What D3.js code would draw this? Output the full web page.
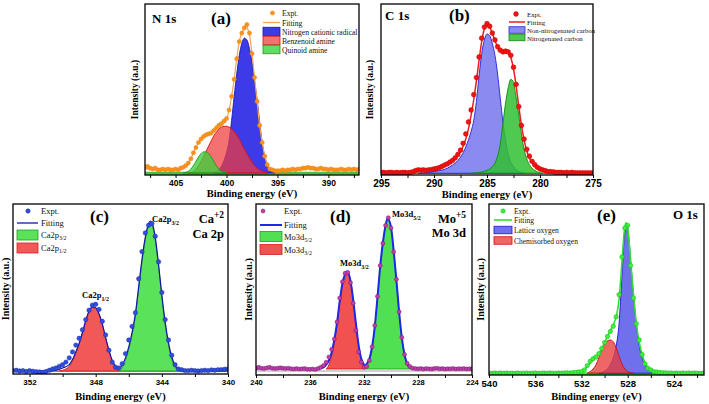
<!DOCTYPE html>
<html><head><meta charset="utf-8">
<script src="https://cdn.jsdelivr.net/npm/d3@7"></script>
<style>html,body{margin:0;padding:0;background:#fff;} svg{display:block}</style>
</head><body>
<svg id="chart" width="709" height="404"></svg>
<script>
// ================= DATA =================
// (a) N 1s  — experimental points on a regular energy grid (eV), intensity in % of frame height
const aExptStart = 408, aExptStep = 0.25;
const aExpt = [4.5,5,4,3.5,4,3,3,3.5,3,3.5,3,3,3.5,3,4,4.5,
  5.5,7,9.5,13,16,19,21,22.5,23.5,24,24.5,26,27.5,29,30,31.5,33,38,46,56,68,78,83,86,88,83,71,57,43,29,19,11,6,3.5,3,
  2.5,2.5,2.5,3,2.5,3,3,3.5,3,3.5,3.5,4,4,4.5,4,4,3.5,3.5,4,3.5,3.5,3,3.5,3,3,3,3.5,3,3,3.5,3,3.5,3,3.5];
const aFit = [[408,3.6],[407,3.5],[406,3.2],[405,3.3],[404.5,3.8],[404,5.2],[403.75,7],[403.5,9.5],[403.25,13],[403,16],[402.75,19],[402.5,21],[402.25,22.5],[402,23.5],[401.5,24.5],[401,27.5],[400.5,30],[400.25,31.5],[400,33],[399.75,38],[399.5,46],[399.25,56],[399,68],[398.75,78],[398.5,83],[398.25,86],[398.1,88],[397.9,85],[397.75,82],[397.5,71],[397.25,57],[397,43],[396.75,29],[396.5,19],[396.25,11],[396,6],[395.75,3.5],[395.5,2.8],[395,2.6],[394.5,2.8],[394,3],[393,3.3],[392,3.8],[391,3.6],[390,3.3],[389,3.2],[388,3.3],[387,3.3]];
const aCationic = [[401.25,1.2],[401,2],[400.75,3],[400.5,5],[400.25,8.5],[400,13],[399.75,20],[399.5,32],[399.25,46],[399,59],[398.75,70],[398.5,77],[398.25,80],[398,79],[397.75,74],[397.5,66],[397.25,55],[397,44],[396.75,31],[396.5,19],[396.25,11],[396,6.5],[395.75,3.5],[395.5,2],[395.25,1.2]];
const aBenzenoid = [[403.75,1.2],[403.5,1.5],[403.25,2.2],[403,3.5],[402.75,5.5],[402.5,8],[402.25,11],[402,14],[401.75,17],[401.5,20],[401.25,23],[401,25],[400.75,27],[400.5,28],[400.25,28.5],[400,28.5],[399.75,28],[399.5,27],[399.25,25.5],[399,23.5],[398.75,21],[398.5,18],[398.25,15],[398,12.5],[397.75,10],[397.5,7.5],[397.25,5.5],[397,4],[396.75,3],[396.5,2.2],[396.25,1.6],[396,1.2]];
const aQuinoid = [[404.25,1.2],[404,1.5],[403.75,2.2],[403.5,3.5],[403.25,5.5],[403,8],[402.75,10.5],[402.5,12.5],[402.25,13.5],[402,13.5],[401.75,12.5],[401.5,10.5],[401.25,8],[401,5.5],[400.75,3.5],[400.5,2.2],[400.25,1.5],[400,1.2]];
const aTicks = [407.5,405,402.5,400,397.5,395,392.5,390,387.5];
const aTickLabels = [405,400,395,390];
const aLegend = ["Expt.","Fitting","Nitrogen cationic radical","Benzenoid amine","Quinoid amine"];

// (b) C 1s
const bExptStart = 295, bExptStep = 0.25;
const bExpt = [1.5,1.5,1.2,1.5,1.5,1.2,1.5,1.3,1.5,1.5,1.3,1.5,1.8,2.5,3,2.8,3,2.7,3,3.2,3.5,3.8,4.3,5,5.8,6.5,7.5,8.5,10,12,14.5,18.5,24,31,38,47,57,69,80,86.5,88.5,87,83,79,75,73,72,72.5,72,70,63,53,40,29,21,15,11,8,6,4.5,3.5,3,2.5,2,2,1.8,1.5,1.5,1.5,1.3,1.5,1.3,1.5,1.3,1.2,1.3,1.2,1.2,1.2,1.2,1.2];
const bFit = [[295,1.5],[293,1.5],[292,1.8],[291.5,2.2],[291,2.6],[290.5,3],[290,3.5],[289.5,4.3],[289,5.5],[288.5,7],[288,9.5],[287.5,13.5],[287.25,17],[287,21],[286.75,27],[286.5,35],[286.25,44],[286,55],[285.75,67],[285.5,78],[285.25,85.5],[285,88],[284.75,86.5],[284.5,83],[284.25,78.5],[284,75],[283.75,72.5],[283.5,71.5],[283.25,71.5],[283,71],[282.75,68.5],[282.5,62],[282.25,52],[282,40],[281.75,29],[281.5,20.5],[281.25,14],[281,10],[280.5,5.5],[280,3.5],[279.5,2.5],[279,2],[278,1.6],[277,1.5],[275,1.4]];
const bNonNitrogenated = [[291.5,1],[291,1.2],[290.5,1.5],[290,2],[289.5,2.6],[289,3.3],[288.5,4.8],[288,7],[287.75,8.5],[287.5,10.5],[287.25,13],[287,16.5],[286.75,20.5],[286.5,25.5],[286.25,32],[286,43],[285.75,58],[285.5,71],[285.25,79],[285,82.5],[284.75,81.5],[284.5,77],[284.25,70],[284,59],[283.75,45],[283.5,31],[283.25,20],[283,12],[282.75,7.5],[282.5,5],[282.25,3],[282,2],[281.75,1.5],[281.5,1]];
const bNitrogenated = [[286.5,1],[286,1.2],[285.5,1.7],[285,2.8],[284.75,3.5],[284.5,4.8],[284.25,7],[284,11],[283.75,18],[283.5,30],[283.25,42],[283,51],[282.75,56],[282.5,54],[282.25,45],[282,35],[281.75,24],[281.5,15],[281.25,9.5],[281,6],[280.75,4],[280.5,2.8],[280.25,1.8],[280,1.2],[279.75,1]];
const bTicks = [295,292.5,290,287.5,285,282.5,280,277.5,275];
const bTickLabels = [295,290,285,280,275];
const bLegend = ["Expt.","Fitting","Non-nitrogenated carbon","Nitrogenated carbon"];

// (c) Ca 2p
const cExptStart = 353, cExptStep = 0.2;
const cExpt = [2,2.2,1.8,2,1.5,2,1.6,1.3,1.2,1,1.5,2.2,3,3.5,4.5,5.5,7,9.5,13,17,21,26,32,37.5,40.5,41,38,31,23,14,7,4,3.5,6,12,20,28,36,56,72,83,87.5,88.5,81,66,48,32,20,11,5.5,3,2.5,2,2,2.2,2,1.8,2,2.2,2,2.4,2.2,2.5,2.6,2.8,3];
const cFit = [[353,1.8],[352,1.7],[351,1.6],[350.4,2.2],[350,3.5],[349.6,5.5],[349.4,8.5],[349.2,13],[349,18],[348.8,24.5],[348.6,31.5],[348.4,37],[348.2,39.5],[348,39],[347.8,35.5],[347.6,29.5],[347.4,21.5],[347.2,14],[347,8],[346.8,4.5],[346.6,3],[346.4,5],[346.2,9.5],[346,16],[345.8,24.5],[345.6,35.5],[345.4,51.5],[345.2,67.5],[345,80.5],[344.8,88.5],[344.7,90],[344.6,89],[344.4,80.5],[344.2,64.5],[344,46.5],[343.8,30.5],[343.6,18.5],[343.4,10],[343.2,5],[343,2.5],[342.5,1.8],[341.5,1.8],[340,2]];
const cCa2p32 = [[346.6,1.8],[346.4,3.5],[346.2,8],[346,14.5],[345.8,23],[345.6,34],[345.4,50],[345.2,66],[345,79],[344.8,87],[344.7,88.5],[344.6,87.5],[344.4,79],[344.2,63],[344,45],[343.8,29],[343.6,17],[343.4,8.5],[343.2,3.8],[343,2],[342.9,1.8]];
const cCa2p12 = [[350.2,1.8],[350,2.2],[349.8,3],[349.6,4.5],[349.4,7.5],[349.2,12],[349,17.5],[348.8,24],[348.6,31],[348.4,36.5],[348.2,39],[348,38.5],[347.8,35],[347.6,29],[347.4,21],[347.2,13.5],[347,7.5],[346.8,3.5],[346.6,1.8]];
const cTicks = [352,350,348,346,344,342,340];
const cTickLabels = [352,348,344,340];

// (d) Mo 3d
const dExptStart = 240, dExptStep = 0.2;
const dExpt = [4,4.5,4,3.8,4.2,4.5,4,3.8,4,4.2,4,3.8,4,3.7,3.5,3.8,3.5,3.6,3.8,3.4,3.3,3.5,3.2,3.8,4.5,5.5,7.5,10.5,15,21,31,45,54.5,59.5,60,54,42,26,13.5,7.5,4.5,5,8.5,16.5,29,46,64,77,87.5,92,86,72,56,37,22,12,6.8,5,4,3.8,3.6,3.8,3.5,3.8,3.6,3.5,3.8,4,3.6,3.8,3.5,3.7,3.6,3.8,3.5,3.7,3.6,3.8,3.5,3.7,3.6];
const dFit = [[240,3.8],[239,3.9],[238,3.8],[237,3.6],[236,3.4],[235.4,3.6],[235,4.5],[234.8,6],[234.6,8.5],[234.4,13],[234.2,20.5],[234,30.5],[233.8,43],[233.6,53.5],[233.4,59],[233.25,60.5],[233,55],[232.8,44],[232.6,30],[232.4,17.5],[232.2,9.5],[232,6],[231.9,5.5],[231.8,6.5],[231.6,9.5],[231.4,16.5],[231.2,28.5],[231,45.5],[230.8,63.5],[230.6,77.5],[230.4,87.5],[230.25,91.5],[230,86.5],[229.8,72.5],[229.6,55.5],[229.4,37],[229.2,22],[229,12],[228.8,6.5],[228.6,4.5],[228.3,3.8],[227,3.7],[226,3.7],[225,3.7],[224,3.7]];
const dMo3d52 = [[231.9,3.5],[231.8,4.5],[231.6,8],[231.4,15.5],[231.2,28],[231,45],[230.8,63],[230.6,77],[230.4,87],[230.25,91],[230,86],[229.8,72],[229.6,55],[229.4,36.5],[229.2,21.5],[229,11.5],[228.8,6],[228.6,4],[228.5,3.5]];
const dMo3d32 = [[234.8,3.5],[234.6,6],[234.4,11],[234.2,19],[234,29.5],[233.8,42],[233.6,52.5],[233.4,58.5],[233.25,60],[233,55],[232.8,44],[232.6,30],[232.4,17],[232.2,8.5],[232,4.5],[231.9,3.5]];
const dTicks = [240,238,236,234,232,230,228,226,224];
const dTickLabels = [240,236,232,228,224];

// (e) O 1s
const eExptStart = 540, eExptStep = 0.25;
const eExpt = [1.2,1,1.2,1,1.2,1,1.2,1,1.1,1,1.2,1,1.1,1.2,1,1.1,1.2,1,1.1,1.2,1,1.2,1.1,1,1.2,1.1,1.2,1.3,1.2,1.4,1.5,1.8,2,3,5.5,8,9.5,10.5,12.5,15.5,19,22.5,25.5,28.5,34,47,69,86,87.5,64,45,30,20.5,12,6.5,4,3,2,1.8,1.5,1.4,1.3,1.2,1.2,1.1,1.2,1,1.2,1.1,1.2,1,1.2,1.1,1,1.1];
const eFit = [[540,1.1],[535,1.1],[533,1.2],[532.5,1.5],[532,2.2],[531.75,3.2],[531.5,5],[531.25,7],[531,9],[530.75,10.5],[530.5,12.5],[530.25,15.5],[530,19],[529.75,22.5],[529.5,26],[529.25,29.5],[529,34],[528.75,44],[528.5,66],[528.3,84],[528.15,89],[528,86],[527.75,67],[527.5,47],[527.25,30],[527,19],[526.75,12],[526.5,7],[526.25,4.5],[526,3],[525.5,1.8],[525,1.3],[524,1.1],[521.4,1.1]];
const eLattice = [[530.5,1],[530,2.2],[529.75,3.5],[529.5,6],[529.25,10],[529,17],[528.75,30],[528.5,58],[528.3,80],[528.1,88],[527.9,80],[527.75,67],[527.5,47],[527.25,29],[527,17],[526.75,10],[526.5,6],[526.25,4],[526,2.8],[525.75,2],[525.5,1.5],[525,1]];
const eChemisorbed = [[531.5,1],[531.25,2],[531,3.5],[530.75,6],[530.5,10],[530.25,14.5],[530,18],[529.75,20],[529.5,20.5],[529.25,19.5],[529,16],[528.75,11],[528.5,6.5],[528.25,3.5],[528,2],[527.75,1.3],[527.5,1]];
const eTicks = [540,538,536,534,532,530,528,526,524,522];
const eTickLabels = [540,536,532,528,524];
const eLegend = ["Expt.","Fitting","Lattice oxygen","Chemisorbed oxygen"];

// ================= DRAWING =================
const svg = d3.select("#chart");
const serif = "'Liberation Serif','Times New Roman',serif";
const sans = "'Liberation Sans',Arial,sans-serif";
const defs = svg.append("defs");

function rich(t, parts) {
  parts.forEach(p => {
    if (typeof p === "string") t.append("tspan").text(p);
    else if (p.sub) t.append("tspan").attr("baseline-shift","sub").attr("font-size","70%").text(p.sub);
    else if (p.sup) t.append("tspan").attr("baseline-shift","super").attr("font-size","75%").text(p.sup);
  });
  return t;
}
function grid(start, step, vals) { return vals.map((v,i) => [+(start - i*step).toFixed(3), v]); }

function panel(o) {
  const g = svg.append("g");
  const x = d3.scaleLinear().domain(o.domain).range([o.x0, o.x1]);
  const y = d3.scaleLinear().domain([0,100]).range([o.y1, o.y0]);
  defs.append("clipPath").attr("id","clip"+o.id).append("rect")
    .attr("x",o.x0).attr("y",o.y0).attr("width",o.x1-o.x0).attr("height",o.y1-o.y0);
  const plot = g.append("g").attr("clip-path",`url(#clip${o.id})`);
  plot.append("line").attr("x1",o.x0).attr("x2",o.x1)
    .attr("y1",y(o.baseLine)).attr("y2",y(o.baseLine))
    .attr("stroke",o.baseColor).attr("stroke-width",o.baseWidth);
  o.components.forEach(c => {
    const area = d3.area().x(d=>x(d[0])).y0(y(o.base)).y1(d=>y(d[1])).curve(d3.curveMonotoneX);
    plot.append("path").datum(c.data).attr("d",area)
      .attr("fill",c.fill).attr("fill-opacity",c.opacity)
      .attr("stroke",c.stroke).attr("stroke-width",0.9);
  });
  const line = d3.line().x(d=>x(d[0])).y(d=>y(d[1])).curve(d3.curveMonotoneX);
  plot.append("path").datum(o.fit).attr("d",line).attr("fill","none")
    .attr("stroke",o.fitColor).attr("stroke-width",o.fitWidth);
  plot.selectAll("circle.pt").data(o.expt).enter().append("circle")
    .attr("cx",d=>x(d[0])).attr("cy",d=>y(d[1])).attr("r",o.dotR)
    .attr("fill",o.dotColor).attr("stroke",o.dotStroke).attr("stroke-width",0.5);
  g.append("rect").attr("x",o.x0).attr("y",o.y0).attr("width",o.x1-o.x0).attr("height",o.y1-o.y0)
    .attr("fill","none").attr("stroke","#000").attr("stroke-width",1.3);
  const axis = d3.axisBottom(x).tickValues(o.ticks).tickSize(3).tickSizeOuter(0).tickPadding(2)
    .tickFormat(d => o.labels.includes(d) ? d : "");
  const ag = g.append("g").attr("transform",`translate(0,${o.y1})`).call(axis);
  ag.select(".domain").remove();
  ag.selectAll("line").attr("stroke","#000").attr("stroke-width",1);
  ag.selectAll("text").attr("font-family",sans).attr("font-weight","bold")
    .attr("font-size",o.tickFont).attr("fill","#000");
  g.append("text").attr("x",(o.x0+o.x1)/2).attr("y",o.xTitleY).attr("text-anchor","middle")
    .attr("font-family",serif).attr("font-weight","bold").attr("font-size",10.5).text("Binding energy (eV)");
  g.append("text").attr("transform",`translate(${o.yTitleX},${(o.y0+o.y1)/2}) rotate(-90)`)
    .attr("text-anchor","middle").attr("dominant-baseline","central")
    .attr("font-family",serif).attr("font-weight","bold").attr("font-size",o.yTitleFont).text("Intensity (a.u.)");
  const L = o.legend;
  o.legendItems.forEach((it,i) => {
    const cy = L.rows[i];
    if (it.type === "dot") g.append("circle").attr("cx",L.dotX).attr("cy",cy).attr("r",o.dotR)
      .attr("fill",o.dotColor).attr("stroke",o.dotStroke).attr("stroke-width",0.5);
    else if (it.type === "line") g.append("line").attr("x1",L.bx0).attr("x2",L.bx1).attr("y1",cy).attr("y2",cy)
      .attr("stroke",o.fitColor).attr("stroke-width",Math.max(1.3,o.fitWidth));
    else g.append("rect").attr("x",L.bx0).attr("y",cy-L.bh/2).attr("width",L.bx1-L.bx0).attr("height",L.bh)
      .attr("fill",it.fill).attr("fill-opacity",it.opacity).attr("stroke",it.stroke).attr("stroke-width",0.8);
    rich(g.append("text").attr("x",L.tx).attr("y",cy).attr("dominant-baseline","central")
      .attr("font-family",serif).attr("font-size",L.font).attr("fill","#111"), it.label);
  });
  o.texts.forEach(t => {
    rich(g.append("text").attr("x",t.x).attr("y",t.y).attr("text-anchor",t.anchor||"start")
      .attr("font-family",serif).attr("font-weight","bold").attr("font-size",t.size).attr("fill","#000"), t.parts);
  });
}

const aBlue = {fill:"#3030e6",opacity:0.95,stroke:"#1818b8"};
const aRed  = {fill:"#f03a3a",opacity:0.72,stroke:"#e01010"};
const aGreen= {fill:"#3cce3c",opacity:0.78,stroke:"#1a9a1a"};
panel({id:"a", x0:145,x1:359,y0:4,y1:175, domain:[408,387],
  expt:grid(aExptStart,aExptStep,aExpt), fit:aFit, base:1.2, baseLine:1, baseColor:"#44c044", baseWidth:3,
  components:[{data:aCationic,...aBlue},{data:aBenzenoid,...aRed},{data:aQuinoid,...aGreen}],
  fitColor:"#f4a456", fitWidth:1.2, dotR:2.1, dotColor:"#f7931e", dotStroke:"#f08010",
  ticks:aTicks, labels:aTickLabels, tickFont:8.5, xTitleY:197, yTitleX:135, yTitleFont:9.5,
  legend:{dotX:272.5, bx0:263, bx1:280, bh:8.5, tx:282, font:7.6, rows:[13,22.5,31.5,40.5,49.5]},
  legendItems:[{type:"dot",label:[aLegend[0]]},{type:"line",label:[aLegend[1]]},
    {type:"box",...aBlue,label:[aLegend[2]]},{type:"box",...aRed,label:[aLegend[3]]},{type:"box",...aGreen,label:[aLegend[4]]}],
  texts:[{x:152,y:23,size:13,parts:["N 1s"]},{x:211,y:24,size:17,parts:["(a)"]}]
});

const bBlue = {fill:"#8080f0",opacity:0.92,stroke:"#2424d0"};
const bGreen= {fill:"#30c030",opacity:0.85,stroke:"#108a10"};
panel({id:"b", x0:381,x1:593,y0:4,y1:175, domain:[295,275],
  expt:grid(bExptStart,bExptStep,bExpt), fit:bFit, base:1, baseLine:1, baseColor:"#30b030", baseWidth:1.2,
  components:[{data:bNonNitrogenated,...bBlue},{data:bNitrogenated,...bGreen}],
  fitColor:"#ee1c1c", fitWidth:1.5, dotR:2.4, dotColor:"#f01414", dotStroke:"#c00000",
  ticks:bTicks, labels:bTickLabels, tickFont:10, xTitleY:198, yTitleX:370, yTitleFont:9.5,
  legend:{dotX:516, bx0:509, bx1:525, bh:6.5, tx:527, font:6.8, rows:[14,22,30,37.5]},
  legendItems:[{type:"dot",label:[bLegend[0]]},{type:"line",label:[bLegend[1]]},
    {type:"box",...bBlue,label:[bLegend[2]]},{type:"box",...bGreen,label:[bLegend[3]]}],
  texts:[{x:385,y:20,size:13,parts:["C 1s"]},{x:449,y:21,size:17,parts:["(b)"]}]
});

const cGreen = {fill:"#52e052",opacity:0.95,stroke:"#20a020"};
const cRed   = {fill:"#f05050",opacity:0.95,stroke:"#e02020"};
panel({id:"c", x0:13,x1:228,y0:204,y1:374, domain:[353,340],
  expt:grid(cExptStart,cExptStep,cExpt), fit:cFit, base:1.8, baseLine:1.6, baseColor:"#7a9a7a", baseWidth:1.5,
  components:[{data:cCa2p32,...cGreen},{data:cCa2p12,...cRed}],
  fitColor:"#1515a8", fitWidth:1.2, dotR:2.2, dotColor:"#2f4fe0", dotStroke:"#1a2aa0",
  ticks:cTicks, labels:cTickLabels, tickFont:8, xTitleY:400, yTitleX:5, yTitleFont:10,
  legend:{dotX:28, bx0:17, bx1:38, bh:10, tx:41, font:8.5, rows:[211,223,235,248]},
  legendItems:[{type:"dot",label:["Expt."]},{type:"line",label:["Fitting"]},
    {type:"box",...cGreen,label:["Ca2p",{sub:"3/2"}]},{type:"box",...cRed,label:["Ca2p",{sub:"1/2"}]}],
  texts:[{x:90,y:222,size:17,parts:["(c)"]},
    {x:224,y:223,size:12.5,anchor:"end",parts:["Ca",{sup:"+2"}]},{x:224,y:238,size:12.5,anchor:"end",parts:["Ca 2p"]},
    {x:152,y:222,size:8.5,parts:["Ca2p",{sub:"3/2"}]},{x:82,y:298,size:8.5,parts:["Ca2p",{sub:"1/2"}]}]
});

const dGreen = {fill:"#48de48",opacity:0.95,stroke:"#20a020"};
const dRed   = {fill:"#f04848",opacity:0.95,stroke:"#d02020"};
panel({id:"d", x0:256,x1:472,y0:204,y1:375, domain:[240,224],
  expt:grid(dExptStart,dExptStep,dExpt), fit:dFit, base:3.5, baseLine:2.3, baseColor:"#d0d0d0", baseWidth:2,
  components:[{data:dMo3d52,...dGreen},{data:dMo3d32,...dRed}],
  fitColor:"#1a2ae8", fitWidth:2, dotR:2, dotColor:"#c040a8", dotStroke:"#7a1070",
  ticks:dTicks, labels:dTickLabels, tickFont:7.5, xTitleY:400, yTitleX:248, yTitleFont:10,
  legend:{dotX:263, bx0:260, bx1:282, bh:10, tx:284, font:8.5, rows:[211,225,236.5,249.5]},
  legendItems:[{type:"dot",label:["Expt."]},{type:"line",label:["Fitting"]},
    {type:"box",...dGreen,label:["Mo3d",{sub:"5/2"}]},{type:"box",...dRed,label:["Mo3d",{sub:"3/2"}]}],
  texts:[{x:330,y:222,size:17,parts:["(d)"]},
    {x:466,y:223,size:12.5,anchor:"end",parts:["Mo",{sup:"+5"}]},{x:466,y:237,size:12.5,anchor:"end",parts:["Mo 3d"]},
    {x:392,y:217,size:8.5,parts:["Mo3d",{sub:"5/2"}]},{x:340,y:266,size:8.5,parts:["Mo3d",{sub:"3/2"}]}]
});

const eBlue = {fill:"#6464ea",opacity:0.92,stroke:"#1a1ac8"};
const eRed  = {fill:"#e83c3c",opacity:0.78,stroke:"#d01010"};
panel({id:"e", x0:489,x1:704,y0:204,y1:375, domain:[540,521.4],
  expt:grid(eExptStart,eExptStep,eExpt), fit:eFit, base:1, baseLine:0.8, baseColor:"#3ae83a", baseWidth:3,
  components:[{data:eLattice,...eBlue},{data:eChemisorbed,...eRed}],
  fitColor:"#30e030", fitWidth:1.6, dotR:2.2, dotColor:"#3af03a", dotStroke:"#20b020",
  ticks:eTicks, labels:eTickLabels, tickFont:9.5, xTitleY:400, yTitleX:480, yTitleFont:10,
  legend:{dotX:503, bx0:494, bx1:512, bh:7.5, tx:514, font:7.5, rows:[211,220,230,240.5]},
  legendItems:[{type:"dot",label:[eLegend[0]]},{type:"line",label:[eLegend[1]]},
    {type:"box",...eBlue,label:[eLegend[2]]},{type:"box",...eRed,label:[eLegend[3]]}],
  texts:[{x:597,y:221,size:17,parts:["(e)"]},{x:673,y:219,size:13,parts:["O 1s"]}]
});
</script>
</body></html>
